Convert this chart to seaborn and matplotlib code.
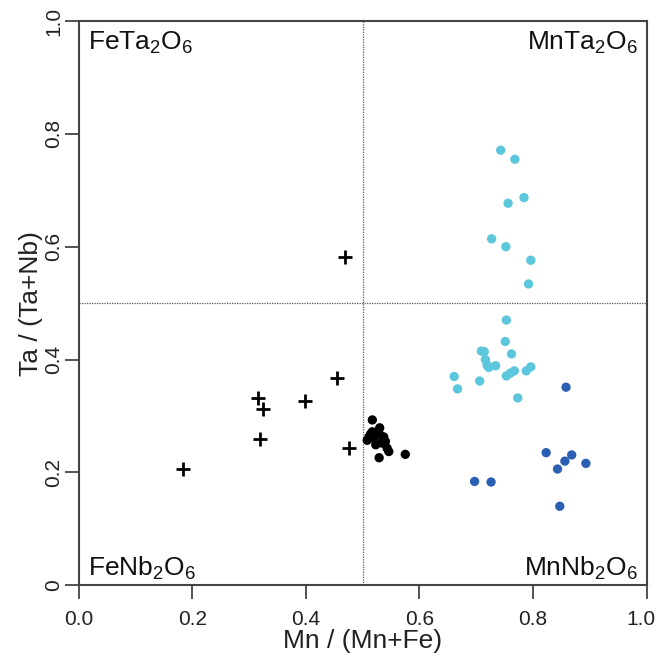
import matplotlib
matplotlib.use('Agg')
import matplotlib.pyplot as plt
import matplotlib.transforms as mtransforms
import seaborn as sns

# samples plotted as black crosses
cross_x = [0.183, 0.315, 0.324, 0.319, 0.398, 0.455, 0.469, 0.476]
cross_y = [0.206, 0.331, 0.312, 0.260, 0.327, 0.367, 0.582, 0.243]

# black dots (cluster just right of Mn/(Mn+Fe)=0.5)
black_x = [0.517, 0.530, 0.511, 0.520, 0.537, 0.526, 0.517, 0.534, 0.543,
           0.546, 0.529, 0.575, 0.508, 0.523, 0.540, 0.531, 0.514]
black_y = [0.293, 0.279, 0.263, 0.260, 0.263, 0.269, 0.272, 0.252, 0.243,
           0.237, 0.226, 0.232, 0.257, 0.249, 0.255, 0.266, 0.268]

# light blue dots
cyan_x = [0.743, 0.768, 0.784, 0.756, 0.727, 0.752, 0.796, 0.792, 0.753,
          0.751, 0.709, 0.714, 0.762, 0.716, 0.719, 0.722, 0.734, 0.753,
          0.760, 0.767, 0.788, 0.796, 0.661, 0.667, 0.706, 0.773]
cyan_y = [0.771, 0.755, 0.687, 0.677, 0.614, 0.600, 0.576, 0.534, 0.470,
          0.432, 0.415, 0.414, 0.410, 0.400, 0.390, 0.386, 0.389, 0.371,
          0.376, 0.380, 0.380, 0.387, 0.370, 0.348, 0.362, 0.332]

# dark blue dots
blue_x = [0.858, 0.823, 0.868, 0.856, 0.843, 0.893, 0.697, 0.726, 0.847]
blue_y = [0.351, 0.235, 0.231, 0.220, 0.206, 0.216, 0.184, 0.183, 0.140]

x_ticks = [0.0, 0.2, 0.4, 0.6, 0.8, 1.0]
x_ticklabels = ['0.0', '0.2', '0.4', '0.6', '0.8', '1.0']
y_ticks = [0.0, 0.2, 0.4, 0.6, 0.8, 1.0]
y_ticklabels = ['0', '0.2', '0.4', '0.6', '0.8', '1.0']

sns.set_style('ticks')
plt.rcParams['font.family'] = ['Liberation Sans', 'DejaVu Sans']
plt.rcParams['mathtext.fontset'] = 'custom'
plt.rcParams['mathtext.rm'] = 'Liberation Sans'
plt.rcParams['mathtext.it'] = 'Liberation Sans'

fig = plt.figure(figsize=(6.59, 6.62), dpi=100)
ax = fig.add_axes([0.1194, 0.1159, 0.9813 - 0.1194, 0.9683 - 0.1159])

# dotted division lines
ax.axvline(0.5, color='#555555', lw=0.9, ls=(0, (1, 1)), zorder=1)
ax.axhline(0.5, color='#555555', lw=0.9, ls=(0, (1, 1)), zorder=1)

sns.scatterplot(x=cross_x, y=cross_y, marker='+', s=110, color='black',
                linewidth=2.0, ax=ax, zorder=3)
sns.scatterplot(x=black_x, y=black_y, s=45, color='black', edgecolor='none',
                ax=ax, zorder=3)
sns.scatterplot(x=cyan_x, y=cyan_y, s=45, color='#5bc6dc', edgecolor='none',
                ax=ax, zorder=3)
sns.scatterplot(x=blue_x, y=blue_y, s=45, color='#2b5fb4', edgecolor='none',
                ax=ax, zorder=3)

ax.set_xlim(0, 1)
ax.set_ylim(0, 1)
ax.set_xticks(x_ticks)
ax.set_xticklabels(x_ticklabels)
ax.set_yticks(y_ticks)
ax.set_yticklabels(y_ticklabels, rotation=90, va='center')
ax.tick_params(direction='out', length=10, width=1.3, colors='#444444',
               labelcolor='#222222', labelsize=15)
ax.tick_params(axis='x', pad=8)
ax.tick_params(axis='y', pad=1)

# nudge the last x label a little so it stays inside the picture
last = ax.get_xticklabels()[-1]
last.set_transform(last.get_transform() +
                   mtransforms.ScaledTranslation(-4 / 72, 0, fig.dpi_scale_trans))

for sp in ax.spines.values():
    sp.set_visible(True)
    sp.set_linewidth(1.5)
    sp.set_color('#444444')

ax.set_xlabel('Mn / (Mn+Fe)', fontsize=19, color='#222222', labelpad=0)
ax.set_ylabel('Ta / (Ta+Nb)', fontsize=19, color='#222222', labelpad=1)

corner_kw = dict(fontsize=19, color='#111111', transform=ax.transAxes)
ax.text(0.017, 0.985, r'FeTa$_2$O$_6$', ha='left', va='top', **corner_kw)
ax.text(0.985, 0.985, r'MnTa$_2$O$_6$', ha='right', va='top', **corner_kw)
ax.text(0.017, 0.005, r'FeNb$_2$O$_6$', ha='left', va='bottom', **corner_kw)
ax.text(0.985, 0.005, r'MnNb$_2$O$_6$', ha='right', va='bottom', **corner_kw)

fig.savefig('out.png', dpi=100)
